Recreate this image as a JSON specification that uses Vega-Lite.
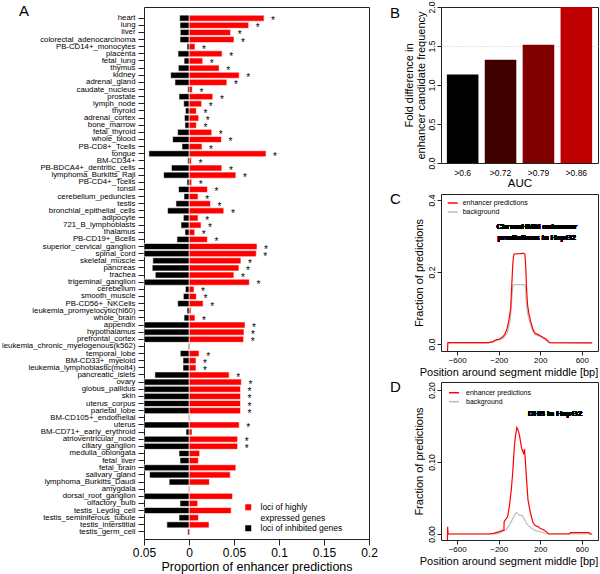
{
  "$schema": "https://vega.github.io/schema/vega-lite/v6.json",
  "autosize": {"type": "none"},
  "padding": {"left": 144, "top": 7, "right": 456, "bottom": 567},
  "background": "white",
  "bounds": "flush",
  "spacing": 72,
  "resolve": {"scale": {"color": "independent"}, "legend": {"color": "independent"}},
  "config": {
    "font": "Liberation Sans",
    "view": {"stroke": "#222", "strokeWidth": 1},
    "axis": {"domain": false, "grid": false, "tickColor": "#222", "labelColor": "#000", "titleColor": "#000", "labelFont": "Liberation Sans", "titleFont": "Liberation Sans", "titleFontWeight": "normal", "labelFlush": false, "labelOverlap": false, "labelSeparation": -8},
    "title": {"font": "Liberation Sans", "fontWeight": "normal", "fontSize": 15, "anchor": "start", "frame": "group", "offset": 0, "baseline": "alphabetic", "color": "#000"},
    "legend": {"labelFont": "Liberation Sans", "labelColor": "#000", "padding": 0, "title": null}
  },
  "datasets": {
    "tissues": [
      {"t": "heart", "hi": 0.0834, "lo": -0.0104, "star": true},
      {"t": "lung", "hi": 0.0663, "lo": -0.0100, "star": true},
      {"t": "liver", "hi": 0.0462, "lo": -0.0097, "star": true},
      {"t": "colorectal_adenocarcinoma", "hi": 0.0500, "lo": -0.0100, "star": true},
      {"t": "PB-CD14+_monocytes", "hi": 0.0067, "lo": -0.0022, "star": true},
      {"t": "placenta", "hi": 0.0368, "lo": -0.0122, "star": true},
      {"t": "fetal_lung", "hi": 0.0153, "lo": -0.0055, "star": true},
      {"t": "thymus", "hi": 0.0335, "lo": -0.0119, "star": true},
      {"t": "kidney", "hi": 0.0558, "lo": -0.0204, "star": true},
      {"t": "adrenal_gland", "hi": 0.0421, "lo": -0.0156, "star": true},
      {"t": "caudate_nucleus", "hi": 0.0037, "lo": -0.0015, "star": true},
      {"t": "prostate", "hi": 0.0265, "lo": -0.0111, "star": true},
      {"t": "lymph_node", "hi": 0.0141, "lo": -0.0059, "star": true},
      {"t": "thyroid", "hi": 0.0082, "lo": -0.0040, "star": true},
      {"t": "adrenal_cortex", "hi": 0.0108, "lo": -0.0051, "star": true},
      {"t": "bone_marrow", "hi": 0.0082, "lo": -0.0045, "star": true},
      {"t": "fetal_thyroid", "hi": 0.0253, "lo": -0.0126, "star": true},
      {"t": "whole_blood", "hi": 0.0361, "lo": -0.0182, "star": true},
      {"t": "PB-CD8+_Tcells", "hi": 0.0145, "lo": -0.0078, "star": true},
      {"t": "tongue", "hi": 0.0856, "lo": -0.0446, "star": true},
      {"t": "BM-CD34+", "hi": 0.0026, "lo": -0.0015, "star": true},
      {"t": "PB-BDCA4+_dentritic_cells", "hi": 0.0365, "lo": -0.0195, "star": true},
      {"t": "lymphoma_Burkitts_Raji", "hi": 0.0521, "lo": -0.0282, "star": true},
      {"t": "PB-CD4+_Tcells", "hi": 0.0030, "lo": -0.0022, "star": true},
      {"t": "tonsil", "hi": 0.0205, "lo": -0.0116, "star": true},
      {"t": "cerebellum_peduncles", "hi": 0.0101, "lo": -0.0056, "star": true},
      {"t": "testis", "hi": 0.0239, "lo": -0.0145, "star": true},
      {"t": "bronchial_epithelial_cells", "hi": 0.0387, "lo": -0.0238, "star": true},
      {"t": "adipocyte", "hi": 0.0101, "lo": -0.0063, "star": true},
      {"t": "721_B_lymphoblasts", "hi": 0.0134, "lo": -0.0089, "star": true},
      {"t": "thalamus", "hi": 0.0064, "lo": -0.0045, "star": true},
      {"t": "PB-CD19+_Bcells", "hi": 0.0205, "lo": -0.0134, "star": true},
      {"t": "superior_cervical_ganglion", "hi": 0.0756, "lo": -0.05, "star": true},
      {"t": "spinal_cord", "hi": 0.0748, "lo": -0.05, "star": true},
      {"t": "skeletal_muscle", "hi": 0.0577, "lo": -0.0402, "star": true},
      {"t": "pancreas", "hi": 0.0555, "lo": -0.0409, "star": true},
      {"t": "trachea", "hi": 0.0499, "lo": -0.0375, "star": true},
      {"t": "trigeminal_ganglion", "hi": 0.0671, "lo": -0.05, "star": true},
      {"t": "cerebellum", "hi": 0.0056, "lo": -0.0040, "star": true},
      {"t": "smooth_muscle", "hi": 0.0082, "lo": -0.0063, "star": true},
      {"t": "PB-CD56+_NKCells", "hi": 0.0157, "lo": -0.0126, "star": true},
      {"t": "leukemia_promyelocytic(hl60)", "hi": 0.0022, "lo": -0.0022, "star": false},
      {"t": "whole_brain", "hi": 0.0067, "lo": -0.0055, "star": true},
      {"t": "appendix", "hi": 0.0623, "lo": -0.05, "star": true},
      {"t": "hypothalamus", "hi": 0.0611, "lo": -0.05, "star": true},
      {"t": "prefrontal_cortex", "hi": 0.0607, "lo": -0.05, "star": true},
      {"t": "leukemia_chronic_myelogenous(k562)", "hi": 0.0012, "lo": -0.0008, "star": false},
      {"t": "temporal_lobe", "hi": 0.0112, "lo": -0.0097, "star": true},
      {"t": "BM-CD33+_myeloid", "hi": 0.0078, "lo": -0.0067, "star": true},
      {"t": "leukemia_lymphoblastic(molt4)", "hi": 0.0078, "lo": -0.0067, "star": true},
      {"t": "pancreatic_islets", "hi": 0.0446, "lo": -0.0379, "star": true},
      {"t": "ovary", "hi": 0.0582, "lo": -0.05, "star": true},
      {"t": "globus_pallidus", "hi": 0.0573, "lo": -0.05, "star": true},
      {"t": "skin", "hi": 0.0573, "lo": -0.05, "star": true},
      {"t": "uterus_corpus", "hi": 0.0573, "lo": -0.05, "star": true},
      {"t": "parietal_lobe", "hi": 0.0573, "lo": -0.05, "star": true},
      {"t": "BM-CD105+_endothelial", "hi": 0.0010, "lo": -0.0005, "star": false},
      {"t": "uterus", "hi": 0.0558, "lo": -0.05, "star": true},
      {"t": "BM-CD71+_early_erythroid", "hi": 0.0034, "lo": -0.0033, "star": false},
      {"t": "atrioventricular_node", "hi": 0.0540, "lo": -0.05, "star": true},
      {"t": "ciliary_ganglion", "hi": 0.0540, "lo": -0.05, "star": true},
      {"t": "medulla_oblongata", "hi": 0.0119, "lo": -0.0111, "star": false},
      {"t": "fetal_liver", "hi": 0.0105, "lo": -0.0100, "star": false},
      {"t": "fetal_brain", "hi": 0.0521, "lo": -0.05, "star": false},
      {"t": "salivary_gland", "hi": 0.0458, "lo": -0.0438, "star": false},
      {"t": "lymphoma_Burkitts_Daudi", "hi": 0.0227, "lo": -0.0221, "star": false},
      {"t": "amygdala", "hi": 0.0010, "lo": -0.0005, "star": false},
      {"t": "dorsal_root_ganglion", "hi": 0.0484, "lo": -0.05, "star": false},
      {"t": "olfactory_bulb", "hi": 0.0097, "lo": -0.0100, "star": false},
      {"t": "testis_Leydig_cell", "hi": 0.0469, "lo": -0.05, "star": false},
      {"t": "testis_seminiferous_tubule", "hi": 0.0105, "lo": -0.0111, "star": false},
      {"t": "testis_interstitial", "hi": 0.0223, "lo": -0.0246, "star": false},
      {"t": "testis_germ_cell", "hi": 0.0012, "lo": -0.0015, "star": false}
    ],
    "chrom": [
      {"series": "background", "pos": -690, "frac": 0.003},
      {"series": "background", "pos": -300, "frac": 0.003},
      {"series": "background", "pos": -250, "frac": 0.006},
      {"series": "background", "pos": -220, "frac": 0.010},
      {"series": "background", "pos": -180, "frac": 0.013},
      {"series": "background", "pos": -150, "frac": 0.018},
      {"series": "background", "pos": -120, "frac": 0.030},
      {"series": "background", "pos": -100, "frac": 0.050},
      {"series": "background", "pos": -85, "frac": 0.080},
      {"series": "background", "pos": -75, "frac": 0.120},
      {"series": "background", "pos": -65, "frac": 0.160},
      {"series": "background", "pos": -55, "frac": 0.165},
      {"series": "background", "pos": 45, "frac": 0.165},
      {"series": "background", "pos": 55, "frac": 0.160},
      {"series": "background", "pos": 65, "frac": 0.120},
      {"series": "background", "pos": 75, "frac": 0.090},
      {"series": "background", "pos": 90, "frac": 0.070},
      {"series": "background", "pos": 110, "frac": 0.050},
      {"series": "background", "pos": 130, "frac": 0.035},
      {"series": "background", "pos": 160, "frac": 0.025},
      {"series": "background", "pos": 200, "frac": 0.020},
      {"series": "background", "pos": 240, "frac": 0.013},
      {"series": "background", "pos": 270, "frac": 0.007},
      {"series": "background", "pos": 290, "frac": 0.003},
      {"series": "background", "pos": 700, "frac": 0.003},
      {"series": "enhancer predictions", "pos": -695, "frac": -0.03},
      {"series": "enhancer predictions", "pos": -690, "frac": 0.004},
      {"series": "enhancer predictions", "pos": -300, "frac": 0.004},
      {"series": "enhancer predictions", "pos": -260, "frac": 0.006},
      {"series": "enhancer predictions", "pos": -240, "frac": 0.010},
      {"series": "enhancer predictions", "pos": -220, "frac": 0.012},
      {"series": "enhancer predictions", "pos": -200, "frac": 0.013},
      {"series": "enhancer predictions", "pos": -180, "frac": 0.016},
      {"series": "enhancer predictions", "pos": -160, "frac": 0.020},
      {"series": "enhancer predictions", "pos": -140, "frac": 0.028},
      {"series": "enhancer predictions", "pos": -120, "frac": 0.042},
      {"series": "enhancer predictions", "pos": -100, "frac": 0.070},
      {"series": "enhancer predictions", "pos": -85, "frac": 0.100},
      {"series": "enhancer predictions", "pos": -75, "frac": 0.160},
      {"series": "enhancer predictions", "pos": -65, "frac": 0.220},
      {"series": "enhancer predictions", "pos": -57, "frac": 0.245},
      {"series": "enhancer predictions", "pos": -52, "frac": 0.250},
      {"series": "enhancer predictions", "pos": 40, "frac": 0.252},
      {"series": "enhancer predictions", "pos": 52, "frac": 0.250},
      {"series": "enhancer predictions", "pos": 60, "frac": 0.215},
      {"series": "enhancer predictions", "pos": 67, "frac": 0.160},
      {"series": "enhancer predictions", "pos": 77, "frac": 0.110},
      {"series": "enhancer predictions", "pos": 90, "frac": 0.085},
      {"series": "enhancer predictions", "pos": 110, "frac": 0.060},
      {"series": "enhancer predictions", "pos": 130, "frac": 0.040},
      {"series": "enhancer predictions", "pos": 150, "frac": 0.030},
      {"series": "enhancer predictions", "pos": 180, "frac": 0.026},
      {"series": "enhancer predictions", "pos": 200, "frac": 0.023},
      {"series": "enhancer predictions", "pos": 230, "frac": 0.018},
      {"series": "enhancer predictions", "pos": 255, "frac": 0.014},
      {"series": "enhancer predictions", "pos": 275, "frac": 0.008},
      {"series": "enhancer predictions", "pos": 290, "frac": 0.004},
      {"series": "enhancer predictions", "pos": 700, "frac": 0.003}
    ],
    "dhs": [
      {"series": "background", "pos": -690, "frac": 0.0},
      {"series": "background", "pos": -250, "frac": 0.0},
      {"series": "background", "pos": -200, "frac": 0.001},
      {"series": "background", "pos": -160, "frac": 0.004},
      {"series": "background", "pos": -130, "frac": 0.006},
      {"series": "background", "pos": -98, "frac": 0.012},
      {"series": "background", "pos": -70, "frac": 0.020},
      {"series": "background", "pos": -49, "frac": 0.026},
      {"series": "background", "pos": -33, "frac": 0.030},
      {"series": "background", "pos": -15, "frac": 0.028},
      {"series": "background", "pos": 0, "frac": 0.026},
      {"series": "background", "pos": 20, "frac": 0.026},
      {"series": "background", "pos": 33, "frac": 0.024},
      {"series": "background", "pos": 50, "frac": 0.020},
      {"series": "background", "pos": 66, "frac": 0.015},
      {"series": "background", "pos": 90, "frac": 0.011},
      {"series": "background", "pos": 115, "frac": 0.008},
      {"series": "background", "pos": 150, "frac": 0.005},
      {"series": "background", "pos": 197, "frac": 0.003},
      {"series": "background", "pos": 260, "frac": 0.001},
      {"series": "background", "pos": 700, "frac": 0.0},
      {"series": "enhancer predictions", "pos": -695, "frac": -0.02},
      {"series": "enhancer predictions", "pos": -692, "frac": 0.010},
      {"series": "enhancer predictions", "pos": -688, "frac": 0.0},
      {"series": "enhancer predictions", "pos": -300, "frac": 0.0},
      {"series": "enhancer predictions", "pos": -250, "frac": 0.001},
      {"series": "enhancer predictions", "pos": -200, "frac": 0.003},
      {"series": "enhancer predictions", "pos": -160, "frac": 0.005},
      {"series": "enhancer predictions", "pos": -150, "frac": 0.005},
      {"series": "enhancer predictions", "pos": -148, "frac": 0.017},
      {"series": "enhancer predictions", "pos": -115, "frac": 0.024},
      {"series": "enhancer predictions", "pos": -98, "frac": 0.038},
      {"series": "enhancer predictions", "pos": -80, "frac": 0.060},
      {"series": "enhancer predictions", "pos": -66, "frac": 0.084},
      {"series": "enhancer predictions", "pos": -50, "frac": 0.120},
      {"series": "enhancer predictions", "pos": -40, "frac": 0.135},
      {"series": "enhancer predictions", "pos": -25, "frac": 0.148},
      {"series": "enhancer predictions", "pos": -15, "frac": 0.145},
      {"series": "enhancer predictions", "pos": 0, "frac": 0.137},
      {"series": "enhancer predictions", "pos": 10, "frac": 0.128},
      {"series": "enhancer predictions", "pos": 20, "frac": 0.120},
      {"series": "enhancer predictions", "pos": 30, "frac": 0.115},
      {"series": "enhancer predictions", "pos": 40, "frac": 0.112},
      {"series": "enhancer predictions", "pos": 48, "frac": 0.118},
      {"series": "enhancer predictions", "pos": 55, "frac": 0.105},
      {"series": "enhancer predictions", "pos": 66, "frac": 0.080},
      {"series": "enhancer predictions", "pos": 82, "frac": 0.047},
      {"series": "enhancer predictions", "pos": 100, "frac": 0.033},
      {"series": "enhancer predictions", "pos": 115, "frac": 0.024},
      {"series": "enhancer predictions", "pos": 130, "frac": 0.016},
      {"series": "enhancer predictions", "pos": 148, "frac": 0.012},
      {"series": "enhancer predictions", "pos": 180, "frac": 0.010},
      {"series": "enhancer predictions", "pos": 197, "frac": 0.008},
      {"series": "enhancer predictions", "pos": 230, "frac": 0.006},
      {"series": "enhancer predictions", "pos": 262, "frac": 0.003},
      {"series": "enhancer predictions", "pos": 280, "frac": 0.0},
      {"series": "enhancer predictions", "pos": 480, "frac": 0.0},
      {"series": "enhancer predictions", "pos": 490, "frac": 0.002},
      {"series": "enhancer predictions", "pos": 670, "frac": 0.002},
      {"series": "enhancer predictions", "pos": 680, "frac": 0.0},
      {"series": "enhancer predictions", "pos": 700, "frac": 0.0}
    ]
  },
  "hconcat": [
    {
      "width": 225,
      "height": 532,
      "title": {"text": "A", "dx": -125, "dy": 16},
      "data": {"name": "tissues"},
      "transform": [{"fold": ["hi", "lo"], "as": ["kind", "val"]}],
      "encoding": {
        "y": {"field": "t", "type": "nominal", "sort": null,
          "scale": {"paddingInner": 0.15, "paddingOuter": 0.85, "align": 0.67},
          "axis": {"title": null, "labelFontSize": 7.8, "labelLimit": 300, "tickSize": 6, "labelPadding": 3, "labelOverlap": false}},
        "x": {"field": "val", "type": "quantitative", "stack": null,
          "scale": {"domain": [-0.05, 0.2], "nice": false, "zero": false},
          "axis": {"values": [-0.05, 0, 0.05, 0.1, 0.15, 0.2], "labelExpr": "format(abs(datum.value), '~g')", "title": "Proportion of enhancer predictions", "titleFontSize": 12.5, "labelFontSize": 12, "tickSize": 6, "labelPadding": 2, "titlePadding": 2, "labelOverlap": false, "labelFlush": false}}
      },
      "layer": [
        {
          "mark": {"type": "bar", "stroke": "white", "strokeWidth": 0.6},
          "encoding": {
            "color": {"field": "kind", "type": "nominal",
              "scale": {"domain": ["hi", "lo"], "range": ["#ff0000", "#000000"]},
              "legend": {"orient": "none", "legendX": 100, "legendY": 496, "symbolType": "square", "symbolSize": 36, "symbolStrokeWidth": 0, "labelFontSize": 8.5, "labelOffset": 8, "rowPadding": 1, "labelLimit": 200,
                "labelExpr": "datum.value == 'hi' ? ['loci of highly', 'expressed genes'] : 'loci of inhibited genes'"}}
          }
        },
        {
          "mark": {"type": "text", "dx": 9, "dy": 3, "fontSize": 10, "baseline": "middle", "align": "center", "color": "#000"},
          "encoding": {
            "text": {"condition": {"test": "datum.kind == 'hi' && datum.star", "value": "*"}, "value": ""}
          }
        }
      ]
    },
    {
      "resolve": {"scale": {"color": "independent"}, "legend": {"color": "independent"}},
      "spacing": 31,
      "bounds": "flush",
      "vconcat": [
        {
          "width": 157,
          "height": 156,
          "title": {"text": "B", "dx": -51, "dy": 24},
          "data": {"values": [
            {"auc": ">0.6", "fold": 1.136},
            {"auc": ">0.72", "fold": 1.324},
            {"auc": ">0.79", "fold": 1.516},
            {"auc": ">0.86", "fold": 2.0}
          ]},
          "mark": {"type": "bar"},
          "encoding": {
            "x": {"field": "auc", "type": "nominal", "sort": null,
              "scale": {"paddingInner": 0.167, "paddingOuter": 0.155},
              "axis": {"title": "AUC", "labelAngle": 0, "ticks": false, "tickSize": 0, "labelFontSize": 8.5, "titleFontSize": 11.5, "labelPadding": 5, "titlePadding": 1}},
            "y": {"field": "fold", "type": "quantitative",
              "scale": {"domain": [0, 2], "nice": false},
              "axis": {"values": [0, 0.5, 1, 1.5, 2], "format": ".1f", "labelAngle": -90, "labelAlign": "center", "labelBaseline": "bottom", "labelFontSize": 8.5, "tickSize": 4, "labelPadding": 1, "labelOverlap": false, "labelSeparation": -8, "labelFlush": false,
                "grid": true, "gridColor": "#c8c8c8", "gridDash": [1, 2], "gridWidth": 1,
                "gridOpacity": {"condition": {"test": "datum.value == 1.5", "value": 1}, "value": 0},
                "title": ["Fold difference in", "enhancer candidate frequency"], "titleFontSize": 11, "titleLineHeight": 12, "titlePadding": 1}},
            "color": {"field": "auc", "type": "nominal", "sort": null,
              "scale": {"domain": [">0.6", ">0.72", ">0.79", ">0.86"], "range": ["#000000", "#400000", "#800000", "#c00000"]}, "legend": null}
          }
        },
        {
          "width": 157,
          "height": 157,
          "title": {"text": "C", "dx": -51, "dy": 17},
          "data": {"name": "chrom"},
          "layer": [
            {
              "mark": {"type": "line", "strokeWidth": 1.2, "clip": true},
              "encoding": {
                "x": {"field": "pos", "type": "quantitative",
                  "scale": {"domain": [-756, 756], "nice": false, "zero": false},
                  "axis": {"values": [-600, -400, -200, 0, 200, 400, 600], "labelFontSize": 8, "tickSize": 4, "labelPadding": 1, "labelOverlap": false, "labelSeparation": -8, "labelFlush": false, "title": "Position around segment middle [bp]", "titleFontSize": 11, "titlePadding": 2, "titleX": 67.5}},
                "y": {"field": "frac", "type": "quantitative",
                  "scale": {"domain": [-0.0194, 0.4167], "nice": false, "zero": false},
                  "axis": {"values": [0, 0.1, 0.2, 0.3, 0.4], "format": ".1f", "labelAngle": -90, "labelAlign": "center", "labelBaseline": "bottom", "labelFontSize": 8.5, "tickSize": 4, "labelPadding": 1, "labelOverlap": false, "labelSeparation": -8, "labelFlush": false,
                    "title": "Fraction of predictions", "titleFontSize": 11, "titlePadding": 3}},
                "color": {"field": "series", "type": "nominal",
                  "scale": {"domain": ["enhancer predictions", "background"], "range": ["#ff0000", "#bebebe"]},
                  "legend": {"orient": "none", "legendX": 5.7, "legendY": 3, "symbolType": "stroke", "symbolSize": 100, "symbolStrokeWidth": 1.5, "labelFontSize": 7, "labelOffset": 4, "rowPadding": 0}}
              }
            },
            {
              "mark": {"type": "text", "fontWeight": "bold", "fontSize": 7.8, "lineHeight": 10.5, "align": "center", "baseline": "middle", "color": "#000"},
              "encoding": {"x": {"datum": 166}, "y": {"datum": 0.325}, "text": {"value": ["ChromHMM enhancer", "predictions in HepG2"]}}
            }
          ]
        },
        {
          "width": 157,
          "height": 158,
          "title": {"text": "D", "dx": -51, "dy": 17},
          "data": {"name": "dhs"},
          "layer": [
            {
              "mark": {"type": "line", "strokeWidth": 1.2, "clip": true},
              "encoding": {
                "x": {"field": "pos", "type": "quantitative",
                  "scale": {"domain": [-756, 756], "nice": false, "zero": false},
                  "axis": {"values": [-600, -400, -200, 0, 200, 400, 600], "labelFontSize": 8, "tickSize": 4, "labelPadding": 1, "labelOverlap": false, "labelSeparation": -8, "labelFlush": false, "title": "Position around segment middle [bp]", "titleFontSize": 11, "titlePadding": 2, "titleX": 67.5}},
                "y": {"field": "frac", "type": "quantitative",
                  "scale": {"domain": [-0.0083, 0.2111], "nice": false, "zero": false},
                  "axis": {"values": [0, 0.05, 0.1, 0.15, 0.2], "format": ".2f", "labelAngle": -90, "labelAlign": "center", "labelBaseline": "bottom", "labelFontSize": 8.5, "tickSize": 4, "labelPadding": 1, "labelOverlap": false, "labelSeparation": -8, "labelFlush": false,
                    "title": "Fraction of predictions", "titleFontSize": 11, "titlePadding": 3}},
                "color": {"field": "series", "type": "nominal",
                  "scale": {"domain": ["enhancer predictions", "background"], "range": ["#ff0000", "#bebebe"]},
                  "legend": {"orient": "none", "legendX": 7, "legendY": 4.7, "symbolType": "stroke", "symbolSize": 100, "symbolStrokeWidth": 1.5, "labelFontSize": 7, "labelOffset": 6, "rowPadding": 0}}
              }
            },
            {
              "mark": {"type": "text", "fontWeight": "bold", "fontSize": 8, "align": "center", "baseline": "middle", "color": "#000"},
              "encoding": {"x": {"datum": 342}, "y": {"datum": 0.1667}, "text": {"value": "DHS in HepG2"}}
            }
          ]
        }
      ]
    }
  ]
}
